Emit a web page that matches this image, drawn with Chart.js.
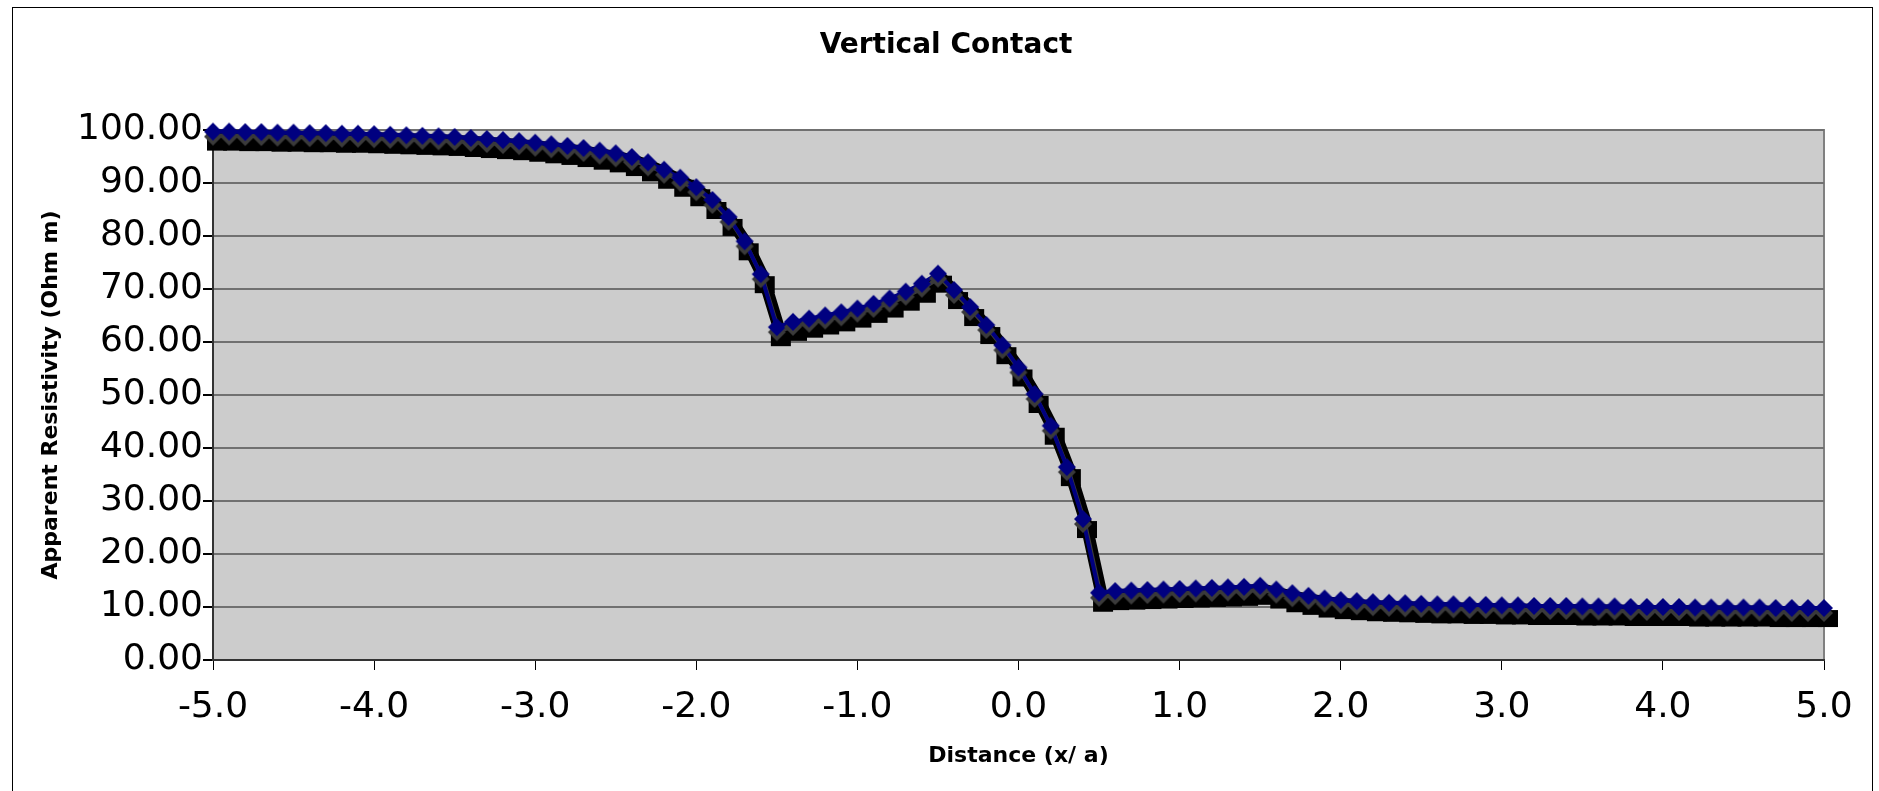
<!DOCTYPE html>
<html>
<head>
<meta charset="utf-8">
<title>Vertical Contact</title>
<script src="https://cdn.jsdelivr.net/npm/chart.js@4.4.0/dist/chart.umd.min.js"></script>
<style>
  html, body { margin: 0; padding: 0; background: #fff; }
</style>
</head>
<body>
<canvas id="myChart" width="1879" height="791"></canvas>
<script>
'use strict';

let chartTitle = 'Vertical Contact';
let xTitle = 'Distance (x/ a)';
let yTitle = 'Apparent Resistivity (Ohm m)';

// distance along the profile, x/a
let distance = [
  -5.0, -4.9, -4.8, -4.7, -4.6, -4.5, -4.4, -4.3, -4.2, -4.1,
  -4.0, -3.9, -3.8, -3.7, -3.6, -3.5, -3.4, -3.3, -3.2, -3.1,
  -3.0, -2.9, -2.8, -2.7, -2.6, -2.5, -2.4, -2.3, -2.2, -2.1,
  -2.0, -1.9, -1.8, -1.7, -1.6, -1.5, -1.4, -1.3, -1.2, -1.1,
  -1.0, -0.9, -0.8, -0.7, -0.6, -0.5, -0.4, -0.3, -0.2, -0.1,
  0.0, 0.1, 0.2, 0.3, 0.4, 0.5, 0.6, 0.7, 0.8, 0.9,
  1.0, 1.1, 1.2, 1.3, 1.4, 1.5, 1.6, 1.7, 1.8, 1.9,
  2.0, 2.1, 2.2, 2.3, 2.4, 2.5, 2.6, 2.7, 2.8, 2.9,
  3.0, 3.1, 3.2, 3.3, 3.4, 3.5, 3.6, 3.7, 3.8, 3.9,
  4.0, 4.1, 4.2, 4.3, 4.4, 4.5, 4.6, 4.7, 4.8, 4.9,
  5.0
];

// apparent resistivity, Ohm m
let resistivity = [
  99.7, 99.7, 99.6, 99.6, 99.5, 99.5, 99.4, 99.4, 99.3, 99.3,
  99.2, 99.1, 99.0, 98.9, 98.8, 98.7, 98.5, 98.3, 98.1, 97.9,
  97.6, 97.3, 97.0, 96.6, 96.1, 95.6, 94.9, 93.9, 92.5, 91.0,
  89.2, 86.8, 83.6, 79.0, 72.8, 62.8, 63.8, 64.4, 65.0, 65.6,
  66.3, 67.2, 68.2, 69.5, 71.0, 72.9, 69.8, 66.6, 63.2, 59.4,
  55.2, 50.2, 44.2, 36.4, 26.6, 12.7, 13.0, 13.1, 13.2, 13.3,
  13.4, 13.5, 13.6, 13.7, 13.8, 14.0, 13.3, 12.6, 12.1, 11.6,
  11.3, 11.1, 10.9, 10.8, 10.7, 10.6, 10.5, 10.5, 10.4, 10.4,
  10.3, 10.3, 10.2, 10.2, 10.2, 10.1, 10.1, 10.1, 10.0, 10.0,
  10.0, 10.0, 9.9, 9.9, 9.9, 9.9, 9.9, 9.8, 9.8, 9.8,
  9.8
];

let xTickValues = [-5, -4, -3, -2, -1, 0, 1, 2, 3, 4, 5];
let yTickValues = [0, 10, 20, 30, 40, 50, 60, 70, 80, 90, 100];

function diamond(g, cx, cy, r, col) {
    g.fillStyle = col;
    g.beginPath();
    g.moveTo(cx, cy - r);
    g.lineTo(cx + r, cy);
    g.lineTo(cx, cy + r);
    g.lineTo(cx - r, cy);
    g.closePath();
    g.fill();
}

// black block cast under every marker
function makeBlock() {
    let c = document.createElement('canvas');
    c.width = 48;
    c.height = 48;
    let g = c.getContext('2d');
    g.fillStyle = '#000';
    g.fillRect(24 - 9, 24 - 2, 20, 17);
    return c;
}

// navy diamond with a darker diamond peeking out below
function makeMarker() {
    let c = document.createElement('canvas');
    c.width = 48;
    c.height = 48;
    let g = c.getContext('2d');
    diamond(g, 24, 29, 9, '#3a3a3a');
    diamond(g, 24, 24, 9, '#000080');
    return c;
}

const chartBox = {
    id: 'chartBox',
    beforeDraw(chart) {
        const ctx = chart.ctx;
        const a = chart.chartArea;
        ctx.save();
        ctx.fillStyle = '#fff';
        ctx.fillRect(0, 0, chart.width, chart.height);
        ctx.strokeStyle = '#000';
        ctx.lineWidth = 1;
        ctx.strokeRect(12.5, 7.5, 1860, 800);
        ctx.fillStyle = '#cccccc';
        ctx.fillRect(a.left, a.top, a.width, a.height);
        ctx.strokeStyle = '#808080';
        ctx.lineWidth = 2;
        ctx.strokeRect(a.left, a.top, a.width, a.height);
        ctx.restore();
    },
    afterDraw(chart) {
        const ctx = chart.ctx;
        ctx.save();
        ctx.font = 'bold 28px "DejaVu Sans"';
        ctx.fillStyle = '#000';
        ctx.textAlign = 'center';
        ctx.textBaseline = 'middle';
        ctx.fillText(chartTitle, 946, 46);
        ctx.restore();
    }
};

// shadow layers: the black band is shifted down-right, the line gets a dark grey shadow
const shadows = {
    id: 'shadows',
    beforeDatasetDraw(chart, args) {
        const ctx = chart.ctx;
        ctx.save();
        if (args.index === 0) {
            ctx.translate(3, 4);
        }
        if (args.index === 1) {
            ctx.shadowColor = '#3a3a3a';
            ctx.shadowOffsetX = 2;
            ctx.shadowOffsetY = 4;
            ctx.shadowBlur = 0;
        }
    },
    afterDatasetDraw(chart) {
        chart.ctx.restore();
    }
};

function createChart() {
    let points = distance.map((x, i) => ({ x: x, y: resistivity[i] }));
    let ctx = document.getElementById('myChart').getContext('2d');

    let myChart = new Chart(ctx, {
        type: 'line',
        data: {
            datasets: [{
                label: 'shadow',
                data: points,
                borderColor: '#000',
                borderWidth: 12,
                borderJoinStyle: 'miter',
                tension: 0,
                pointStyle: makeBlock(),
                pointRadius: 9,
                clip: false,
                order: 3
            }, {
                label: 'line',
                data: points,
                borderColor: '#000080',
                borderWidth: 4,
                pointRadius: 0,
                tension: 0,
                clip: false,
                order: 2
            }, {
                label: 'Apparent Resistivity',
                data: points,
                showLine: false,
                pointStyle: makeMarker(),
                pointRadius: 9,
                clip: false,
                order: 1
            }]
        },
        options: {
            responsive: false,
            animation: false,
            devicePixelRatio: 1,
            layout: { padding: { top: 130, right: 55, left: 0, bottom: 0 } },
            plugins: {
                legend: { display: false },
                tooltip: { enabled: false }
            },
            scales: {
                x: {
                    type: 'linear',
                    min: -5,
                    max: 5,
                    afterBuildTicks: (scale) => { scale.ticks = xTickValues.map(v => ({ value: v })); },
                    afterFit: (scale) => { scale.height = 131; },
                    grid: { drawOnChartArea: false, tickLength: 10, tickColor: '#000' },
                    border: { color: '#333', width: 2 },
                    ticks: {
                        color: '#000',
                        padding: 16,
                        maxRotation: 0,
                        font: { family: 'DejaVu Sans', size: 36 },
                        callback: (v) => Number(v).toFixed(1)
                    },
                    title: {
                        display: true,
                        text: xTitle,
                        color: '#000',
                        padding: { top: 0, bottom: 22 },
                        font: { family: 'DejaVu Sans', size: 22, weight: 'bold' }
                    }
                },
                y: {
                    min: 0,
                    max: 100,
                    afterBuildTicks: (scale) => { scale.ticks = yTickValues.map(v => ({ value: v })); },
                    afterFit: (scale) => { scale.width = 213; },
                    grid: { color: '#707070', lineWidth: 2, tickLength: 10, tickColor: '#000' },
                    border: { color: '#333', width: 2 },
                    ticks: {
                        color: '#000',
                        padding: 0,
                        font: { family: 'DejaVu Sans', size: 36 },
                        callback: (v) => Number(v).toFixed(2)
                    },
                    title: {
                        display: true,
                        text: yTitle,
                        color: '#000',
                        padding: { top: 38, bottom: 0 },
                        font: { family: 'DejaVu Sans', size: 22, weight: 'bold' }
                    }
                }
            }
        },
        plugins: [chartBox, shadows]
    });
}

createChart()
</script>
</body>
</html>
